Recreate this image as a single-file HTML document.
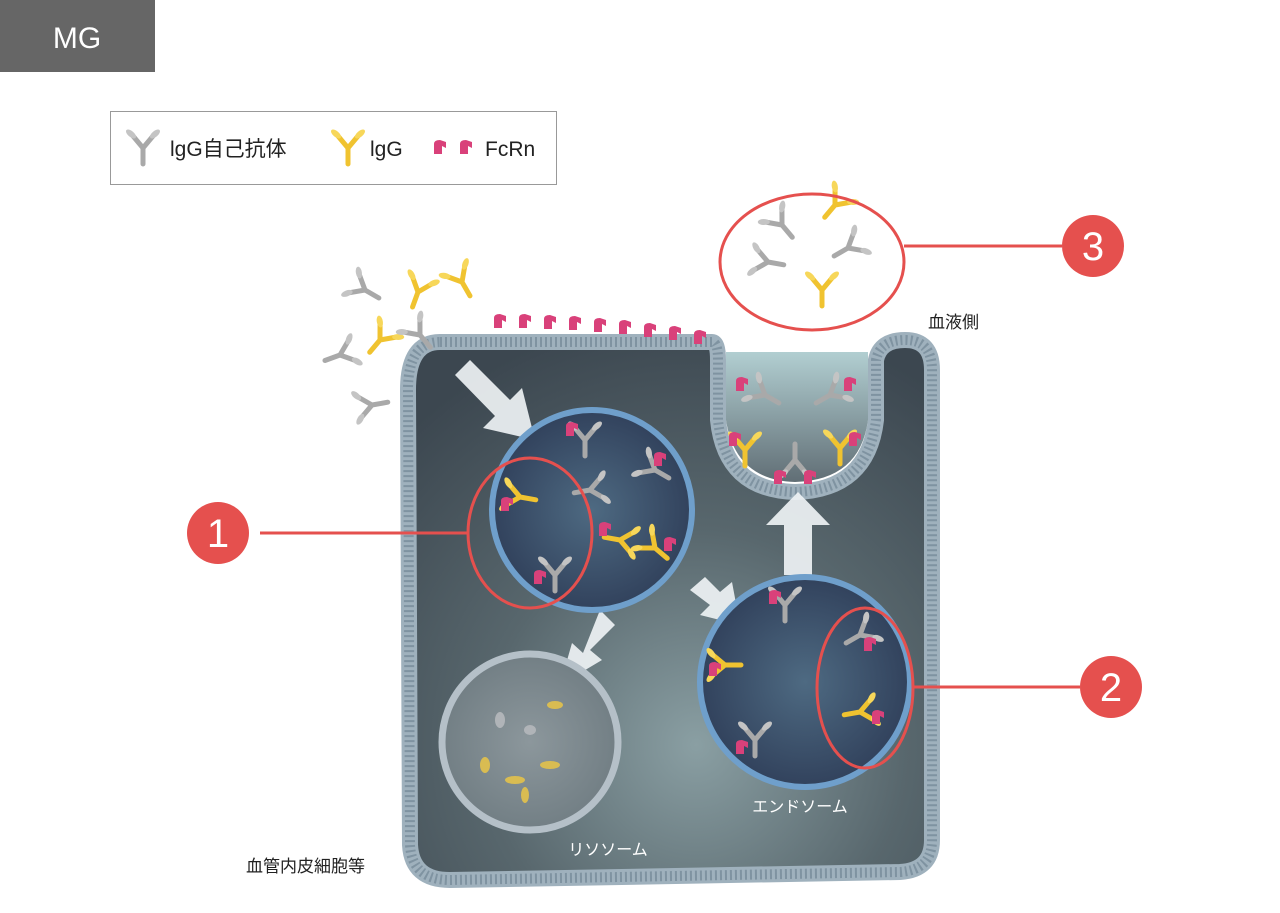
<!DOCTYPE html>
<html><head><meta charset="utf-8"><style>
body{margin:0;background:#fff;width:1280px;height:908px;overflow:hidden;font-family:"Liberation Sans","Noto Sans CJK JP",sans-serif}
</style></head><body>
<svg width="1280" height="908" viewBox="0 0 1280 908" xmlns="http://www.w3.org/2000/svg" style="font-family:'Liberation Sans','Noto Sans CJK JP',sans-serif">
<defs>
<radialGradient id="cell" cx="0.55" cy="0.75" r="0.8">
<stop offset="0" stop-color="#8a9fa3"/><stop offset="0.5" stop-color="#58676d"/><stop offset="1" stop-color="#3c4750"/></radialGradient>
<radialGradient id="ves" cx="0.5" cy="0.5" r="0.6">
<stop offset="0" stop-color="#4e6a82"/><stop offset="1" stop-color="#2c3a55"/></radialGradient>
<radialGradient id="lys" cx="0.5" cy="0.5" r="0.6">
<stop offset="0" stop-color="#8c979c"/><stop offset="1" stop-color="#6d7a80"/></radialGradient>
<linearGradient id="blood" x1="0" y1="0" x2="0" y2="1"><stop offset="0" stop-color="#a9c9cc"/><stop offset="1" stop-color="#4f5e66"/></linearGradient>
<g id="ag"><path d="M0,0 L-10,-12 M0,0 L10,-12 M0,0 L0,16" stroke="#a9a9a9" stroke-width="5" stroke-linecap="round" fill="none"/><ellipse cx="-12" cy="-14" rx="6" ry="3" fill="#c4c4c4" transform="rotate(40 -12 -14)"/><ellipse cx="12" cy="-14" rx="6" ry="3" fill="#c4c4c4" transform="rotate(-40 12 -14)"/></g>
<g id="yg"><path d="M0,0 L-10,-12 M0,0 L10,-12 M0,0 L0,16" stroke="#f0c330" stroke-width="5" stroke-linecap="round" fill="none"/><ellipse cx="-12" cy="-14" rx="6" ry="3" fill="#f7d75a" transform="rotate(40 -12 -14)"/><ellipse cx="12" cy="-14" rx="6" ry="3" fill="#f7d75a" transform="rotate(-40 12 -14)"/></g>
<g id="fc"><path d="M-6,6 L-6,-4 Q-6,-8 0,-8 L6,-6 L6,0 L2,-2 L2,6 Z" fill="#d9417a"/></g>
</defs>
<rect x="0" y="0" width="155" height="72" fill="#666"/>
<text x="77" y="48" font-size="30" fill="#fff" text-anchor="middle">MG</text>
<rect x="110.5" y="111.5" width="446" height="73" fill="#fff" stroke="#999"/>
<use href="#ag" x="143" y="148"/><text x="170" y="156" font-size="21" fill="#222">lgG自己抗体</text>
<use href="#yg" x="348" y="148"/><text x="370" y="156" font-size="21" fill="#222">lgG</text>
<use href="#fc" x="440" y="148"/><use href="#fc" x="466" y="148"/><text x="485" y="156" font-size="21" fill="#222">FcRn</text>
<path d="M440,342 L712,342 Q718,342 718,360 L718,420 Q725,490 795,492 Q868,490 876,420 L876,360 Q880,340 905,340 Q932,340 932,370 L932,840 Q932,870 900,872 L450,880 Q412,880 410,845 L408,390 Q408,342 440,342 Z" fill="url(#cell)" stroke="#9fb1bd" stroke-width="16"/>
<path d="M440,342 L712,342 Q718,342 718,360 L718,420 Q725,490 795,492 Q868,490 876,420 L876,360 Q880,340 905,340 Q932,340 932,370 L932,840 Q932,870 900,872 L450,880 Q412,880 410,845 L408,390 Q408,342 440,342 Z" fill="none" stroke="#7f93a1" stroke-width="10" stroke-dasharray="2 3"/>
<path d="M726,352 L726,420 Q735,480 795,482 Q860,480 868,420 L868,352 Z" fill="url(#blood)" opacity="0.9"/>
<g fill="#eef2f4" opacity="0.92">
<polygon points="455,375 470,360 510,400 522,388 535,440 483,428 495,416"/>
<polygon points="784,575 812,575 812,525 830,525 798,492 766,525 784,525"/>
<polygon points="690,590 705,577 720,592 732,582 740,625 700,615 710,605"/>
<polygon points="600,610 615,625 590,650 602,660 560,685 572,643 583,653"/>
</g>
<circle cx="592" cy="510" r="100" fill="url(#ves)" stroke="#6f9fcb" stroke-width="6"/>
<circle cx="805" cy="682" r="105" fill="url(#ves)" stroke="#6f9fcb" stroke-width="6"/>
<circle cx="530" cy="742" r="88" fill="url(#lys)" stroke="#b5c0c8" stroke-width="7"/>
<use href="#ag" x="365" y="290" transform="rotate(-60 365 290)"/><use href="#yg" x="418" y="292" transform="rotate(20 418 292)"/><use href="#yg" x="462" y="282" transform="rotate(-30 462 282)"/>
<use href="#yg" x="380" y="340" transform="rotate(40 380 340)"/><use href="#ag" x="420" y="335" transform="rotate(-40 420 335)"/><use href="#ag" x="340" y="355" transform="rotate(70 340 355)"/><use href="#ag" x="372" y="405" transform="rotate(-100 372 405)"/>
<g><use href="#fc" x="500" y="322"/><use href="#fc" x="525" y="322"/><use href="#fc" x="550" y="323"/><use href="#fc" x="575" y="324"/><use href="#fc" x="600" y="326"/><use href="#fc" x="625" y="328"/><use href="#fc" x="650" y="331"/><use href="#fc" x="675" y="334"/><use href="#fc" x="700" y="338"/></g>
<use href="#ag" x="585" y="440"/><use href="#ag" x="590" y="490" transform="rotate(80 590 490)"/><use href="#ag" x="655" y="470" transform="rotate(-60 655 470)"/><use href="#yg" x="520" y="497" transform="rotate(-80 520 497)"/><use href="#yg" x="620" y="540" transform="rotate(100 620 540)"/><use href="#yg" x="655" y="548" transform="rotate(-50 655 548)"/><use href="#ag" x="555" y="575"/>
<use href="#fc" x="572" y="430"/><use href="#fc" x="660" y="460"/><use href="#fc" x="507" y="505"/><use href="#fc" x="540" y="578"/><use href="#fc" x="670" y="545"/><use href="#fc" x="605" y="530"/>
<use href="#ag" x="785" y="605"/><use href="#ag" x="860" y="635" transform="rotate(60 860 635)"/><use href="#yg" x="725" y="665" transform="rotate(-90 725 665)"/><use href="#yg" x="860" y="712" transform="rotate(80 860 712)"/><use href="#ag" x="755" y="740"/>
<use href="#fc" x="775" y="598"/><use href="#fc" x="870" y="645"/><use href="#fc" x="715" y="670"/><use href="#fc" x="878" y="718"/><use href="#fc" x="742" y="748"/>
<use href="#ag" x="765" y="395" transform="rotate(-60 765 395)"/><use href="#ag" x="830" y="395" transform="rotate(60 830 395)"/><use href="#yg" x="745" y="450"/><use href="#yg" x="840" y="448"/><use href="#ag" x="795" y="460" transform="rotate(180 795 460)"/>
<use href="#fc" x="742" y="385"/><use href="#fc" x="850" y="385"/><use href="#fc" x="735" y="440"/><use href="#fc" x="855" y="440"/><use href="#fc" x="780" y="478"/><use href="#fc" x="810" y="478"/>
<g fill="#d9bc52"><ellipse cx="555" cy="705" rx="8" ry="4"/><ellipse cx="485" cy="765" rx="5" ry="8"/><ellipse cx="515" cy="780" rx="10" ry="4"/><ellipse cx="525" cy="795" rx="4" ry="8"/><ellipse cx="550" cy="765" rx="10" ry="4"/></g>
<g fill="#b0b4b8"><ellipse cx="500" cy="720" rx="5" ry="8"/><ellipse cx="530" cy="730" rx="6" ry="5"/></g>
<use href="#yg" x="835" y="205" transform="rotate(40 835 205)"/><use href="#ag" x="782" y="225" transform="rotate(-40 782 225)"/><use href="#ag" x="848" y="248" transform="rotate(60 848 248)"/><use href="#ag" x="768" y="262" transform="rotate(-80 768 262)"/><use href="#yg" x="822" y="290"/>
<g fill="none" stroke="#e5504e" stroke-width="3">
<ellipse cx="530" cy="533" rx="62" ry="75"/><ellipse cx="865" cy="688" rx="48" ry="80"/><ellipse cx="812" cy="262" rx="92" ry="68"/>
<line x1="260" y1="533" x2="468" y2="533"/><line x1="913" y1="687" x2="1080" y2="687"/><line x1="904" y1="246" x2="1062" y2="246"/>
</g>
<g fill="#e5504e"><circle cx="218" cy="533" r="31"/><circle cx="1111" cy="687" r="31"/><circle cx="1093" cy="246" r="31"/></g>
<g fill="#fff" font-size="40" text-anchor="middle"><text x="218" y="547">1</text><text x="1111" y="701">2</text><text x="1093" y="260">3</text></g>
<text x="928" y="328" font-size="17" fill="#222">血液側</text>
<text x="246" y="872" font-size="17" fill="#222">血管内皮細胞等</text>
<text x="608" y="855" font-size="16" fill="#fff" text-anchor="middle">リソソーム</text>
<text x="800" y="812" font-size="16" fill="#fff" text-anchor="middle">エンドソーム</text>
</svg>
</body></html>
